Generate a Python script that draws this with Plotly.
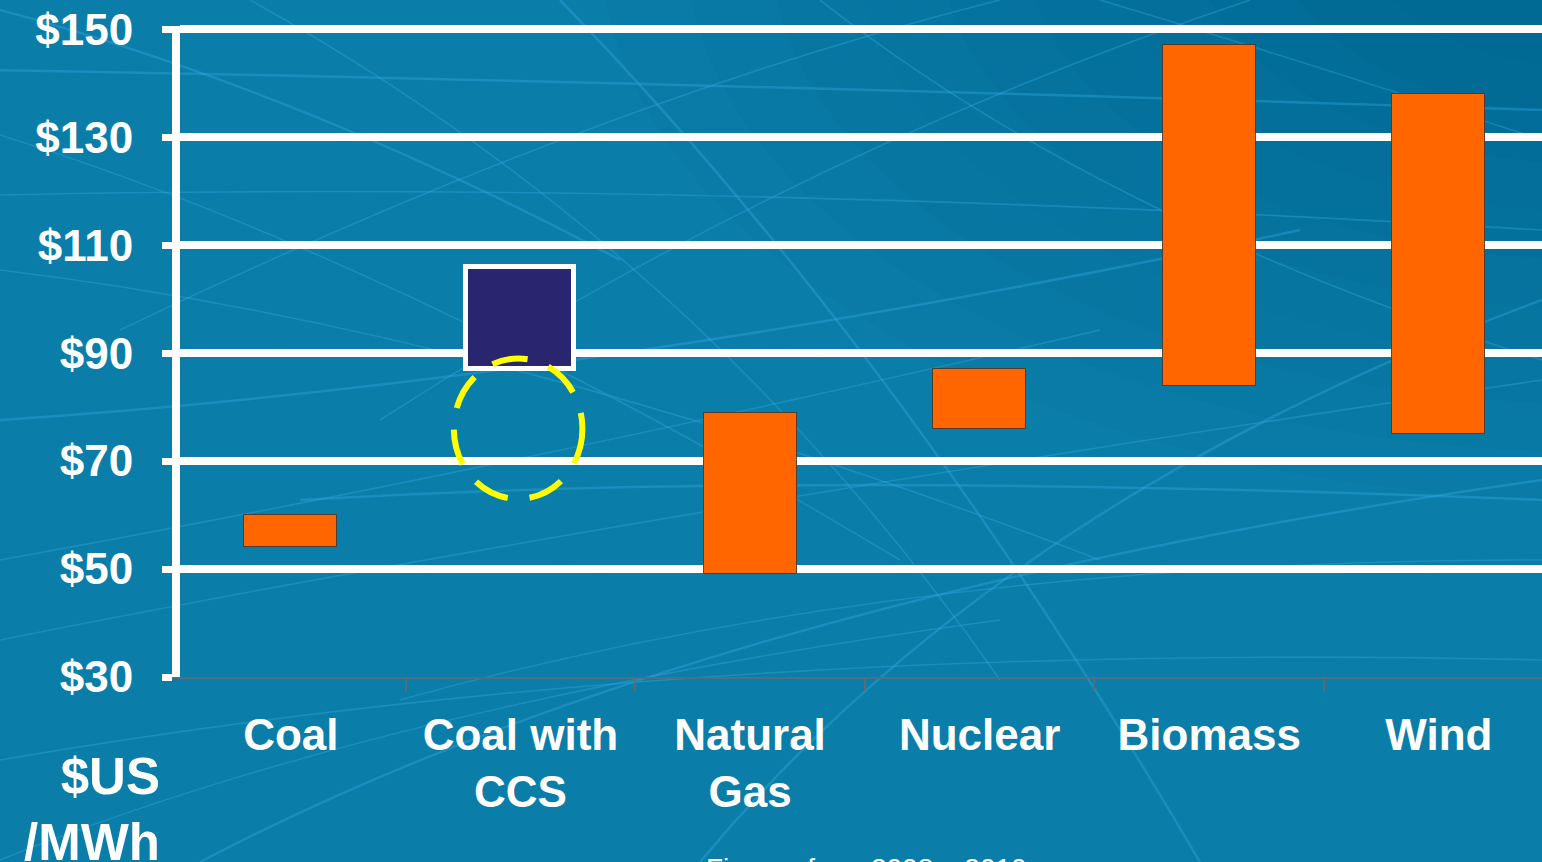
import plotly.graph_objects as go

# Levelised cost ranges, $US per MWh
categories = ["Coal", "Coal with CCS", "Natural Gas", "Nuclear", "Biomass", "Wind"]
tick_labels = ["Coal", "Coal with<br>CCS", "Natural<br>Gas", "Nuclear", "Biomass", "Wind"]
cost_low = [54, 87, 49, 76, 84, 75]
cost_high = [60, 106, 79, 87, 147, 138]
# the expected CCS cost range after improvements (dashed ring)
ccs_target_low = 63
ccs_target_high = 89

y_ticks = [30, 50, 70, 90, 110, 130, 150]
y_tick_text = ["$" + str(v) for v in y_ticks]

W, H = 1542, 862
L, R, T, B = 180, 0, 26, 185

FONT = "Liberation Sans, Arial, sans-serif"
ORANGE = "#FF6600"
NAVY = "#29266F"

fig = go.Figure()

orange_idx = [i for i, c in enumerate(categories) if c != "Coal with CCS"]
ccs_idx = categories.index("Coal with CCS")

fig.add_trace(go.Bar(
    x=[categories[i] for i in orange_idx],
    y=[cost_high[i] - cost_low[i] for i in orange_idx],
    base=[cost_low[i] for i in orange_idx],
    width=0.405,
    marker=dict(color=ORANGE, line=dict(color="rgba(70,50,40,0.85)", width=1)),
    hoverinfo="skip",
    showlegend=False,
))
fig.add_trace(go.Bar(
    x=[categories[ccs_idx]],
    y=[cost_high[ccs_idx] - cost_low[ccs_idx]],
    base=[cost_low[ccs_idx]],
    width=0.47,
    marker=dict(color=NAVY, line=dict(color="white", width=5)),
    hoverinfo="skip",
    showlegend=False,
))

# dashed ring around the projected CCS range
fig.add_shape(
    type="circle", xref="x", yref="y",
    x0=ccs_idx - 0.29, x1=ccs_idx + 0.27,
    y0=ccs_target_low, y1=ccs_target_high,
    line=dict(color="#FFFF00", width=6, dash="36px,22px"),
    layer="above",
)

# ---- background: blue wash with faint streaks ----
def px2paper(px, py):
    return (px - L) / (W - L - R), (H - B - py) / (H - T - B)

shapes_bg = []
# darker tone toward top right, built up from soft overlapping ellipses
for k in range(10):
    rx = 1000 - k * 85
    ry = 560 - k * 48
    cx, cy = 1600, -60
    x0, y0 = px2paper(cx - rx, cy + ry)
    x1, y1 = px2paper(cx + rx, cy - ry)
    shapes_bg.append(dict(type="circle", xref="paper", yref="paper", x0=x0, x1=x1, y0=y0, y1=y1,
                          fillcolor="rgba(5,50,80,0.025)", line=dict(width=0), layer="below"))
# lighter tone toward bottom left
for k in range(5):
    rx = 950 - k * 120
    ry = 480 - k * 60
    cx, cy = 300, 760
    x0, y0 = px2paper(cx - rx, cy + ry)
    x1, y1 = px2paper(cx + rx, cy - ry)
    shapes_bg.append(dict(type="circle", xref="paper", yref="paper", x0=x0, x1=x1, y0=y0, y1=y1,
                          fillcolor="rgba(20,140,190,0.03)", line=dict(width=0), layer="below"))

streaks = [
    ((0, 10), (300, 90), (620, 260)),
    ((0, 135), (400, 260), (900, 560)),
    ((0, 270), (500, 330), (1100, 560)),
    ((-20, 70), (600, 80), (1542, 110)),
    ((0, 195), (700, 180), (1542, 230)),
    ((250, 0), (700, 250), (1000, 680)),
    ((560, 0), (900, 350), (1200, 862)),
    ((820, 0), (1100, 220), (1542, 360)),
    ((1100, 0), (1300, 60), (1542, 140)),
    ((200, 862), (700, 600), (1542, 480)),
    ((0, 640), (600, 520), (1542, 380)),
    ((0, 560), (500, 470), (1100, 330)),
    ((0, 420), (600, 380), (1300, 230)),
    ((400, 700), (900, 560), (1542, 560)),
    ((0, 760), (700, 640), (1542, 660)),
    ((300, 500), (800, 470), (1542, 500)),
    ((120, 330), (600, 100), (1000, 0)),
    ((380, 420), (800, 150), (1250, 0)),
    ((700, 862), (1000, 500), (1542, 300)),
    ((0, 860), (400, 700), (1000, 620)),
]
for n, (a, c, e) in enumerate(streaks):
    ax_, ay_ = px2paper(*a)
    cx_, cy_ = px2paper(*c)
    ex_, ey_ = px2paper(*e)
    shapes_bg.append(dict(
        type="path", xref="paper", yref="paper",
        path="M %.4f,%.4f Q %.4f,%.4f %.4f,%.4f" % (ax_, ay_, cx_, cy_, ex_, ey_),
        line=dict(color="rgba(50,170,230,0.38)", width=2.5 if n % 3 == 0 else 1.6),
        layer="below",
    ))
for s in shapes_bg:
    fig.add_shape(**s)

fig.update_layout(
    width=W, height=H,
    margin=dict(l=L, r=R, t=T, b=B, pad=0),
    paper_bgcolor="#0A7DA8",
    plot_bgcolor="rgba(0,0,0,0)",
    barmode="overlay",
    bargap=0,
    font=dict(family=FONT, color="white"),
    xaxis=dict(
        type="category",
        categoryorder="array", categoryarray=categories,
        tickmode="array", tickvals=categories, ticktext=tick_labels,
        range=[-0.4826, 5.449],
        tickson="boundaries",
        showgrid=False, zeroline=False,
        showline=True, linecolor="#5E6B72", linewidth=2,
        ticks="outside", ticklen=12, tickwidth=2, tickcolor="#5E6B72",
        tickfont=dict(family=FONT, size=44, color="white", weight="bold"),
        ticklabelstandoff=18,
        fixedrange=True,
    ),
    yaxis=dict(
        range=[30, 150.6],
        tickmode="array", tickvals=y_ticks, ticktext=y_tick_text,
        showgrid=True, gridcolor="white", gridwidth=8,
        zeroline=False,
        showline=True, linecolor="white", linewidth=8,
        ticks="outside", ticklen=10, tickwidth=7, tickcolor="white",
        tickfont=dict(family=FONT, size=44, color="white", weight="bold"),
        ticklabelstandoff=20,
        fixedrange=True,
    ),
    annotations=[
        dict(text="$US<br>/MWh", xref="paper", yref="paper",
             x=px2paper(162, 0)[0], y=px2paper(0, 746)[1],
             xanchor="right", yanchor="top", align="right", showarrow=False,
             font=dict(family=FONT, size=51, color="white", weight="bold")),
        dict(text="Figures from 2008 – 2010", xref="paper", yref="paper",
             x=px2paper(704, 0)[0], y=px2paper(0, 851)[1],
             xanchor="left", yanchor="top", showarrow=False,
             font=dict(family=FONT, size=28, color="white")),
    ],
)

fig.write_html("out.html", config={"displayModeBar": False})
